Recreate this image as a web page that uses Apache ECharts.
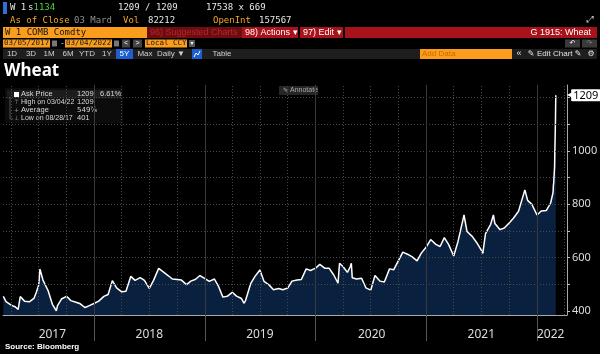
<!DOCTYPE html>
<html>
<head>
<meta charset="utf-8">
<script src="https://cdn.jsdelivr.net/npm/echarts@6/dist/echarts.min.js"></script>
<style>
  html, body { margin: 0; padding: 0; background: #000; }
  #chart { width: 600px; height: 354px; }
</style>
</head>
<body>
<div id="chart"></div>
<script>
// wheat front month (1st / 15th of month plus turning points)
const priceDates = [
  '2017-03-06','2017-03-15','2017-04-01','2017-04-15','2017-04-24','2017-05-01','2017-05-15','2017-06-01','2017-06-15','2017-06-23',
  '2017-07-01','2017-07-05','2017-07-15','2017-08-01','2017-08-15','2017-08-28','2017-09-01','2017-09-15','2017-10-01','2017-10-15',
  '2017-11-01','2017-11-15','2017-12-01','2017-12-15',
  '2018-01-01','2018-01-15','2018-02-01','2018-02-15','2018-03-01','2018-03-15','2018-04-01','2018-04-15','2018-05-01','2018-05-15',
  '2018-06-01','2018-06-15','2018-07-01','2018-07-15','2018-08-01','2018-08-03','2018-08-15','2018-09-01','2018-09-15','2018-10-01',
  '2018-10-15','2018-11-01','2018-11-15','2018-12-01','2018-12-15',
  '2019-01-01','2019-01-15','2019-02-01','2019-02-15','2019-03-01','2019-03-15','2019-04-01','2019-04-15','2019-05-01','2019-05-10',
  '2019-05-15','2019-06-01','2019-06-15','2019-07-01','2019-07-15','2019-08-01','2019-08-15','2019-09-01','2019-09-15','2019-10-01',
  '2019-10-15','2019-11-01','2019-11-15','2019-12-01','2019-12-15',
  '2020-01-01','2020-01-15','2020-02-01','2020-02-15','2020-03-01','2020-03-15','2020-03-20','2020-04-01','2020-04-15','2020-04-24',
  '2020-04-28','2020-05-01','2020-05-15','2020-06-01','2020-06-15','2020-07-01','2020-07-15','2020-08-01','2020-08-15','2020-09-01',
  '2020-09-15','2020-10-01','2020-10-15','2020-11-01','2020-11-15','2020-12-01','2020-12-15',
  '2021-01-01','2021-01-15','2021-02-01','2021-02-15','2021-03-01','2021-03-15','2021-04-01','2021-04-15','2021-05-01','2021-05-05',
  '2021-05-15','2021-06-01','2021-06-15','2021-07-01','2021-07-06','2021-07-15','2021-08-01','2021-08-10','2021-08-15','2021-09-01',
  '2021-09-15','2021-10-01','2021-10-15','2021-11-01','2021-11-15','2021-11-22','2021-12-01','2021-12-15',
  '2022-01-01','2022-01-15','2022-02-01','2022-02-15','2022-02-18','2022-02-23','2022-02-24','2022-02-25','2022-02-28','2022-03-01',
  '2022-03-02','2022-03-03','2022-03-04'
];
const priceValues = [
  455,435,422,415,406,454,437,435,447,470,
  498,557,516,476,425,401,420,446,455,439,
  433,427,413,420,
  429,437,455,462,514,487,472,474,530,515,
  525,515,485,515,560,566,548,533,520,518,
  516,499,512,519,533,
  521,511,520,491,452,455,470,456,447,429,
  440,504,530,554,511,497,480,484,480,486,
  512,516,518,558,552,
  561,575,560,560,535,504,579,566,545,565,
  579,525,520,523,487,478,533,512,509,558,
  555,590,621,612,603,588,617,
  641,668,650,642,675,650,606,660,740,760,
  698,680,658,628,616,690,725,760,728,705,
  711,730,748,774,828,854,815,800,
  760,775,777,805,800,845,870,880,940,1010,
  1060,1120,1209
];

const yLabelValues = [400, 600, 800, 1000];
const yTickValues = [400, 500, 600, 700, 800, 900, 1000, 1100, 1200];
const yGridValues = [500, 600, 700, 800, 900, 1000, 1100, 1200];
const yearLabelDates = ['2017-08-15', '2018-07-01', '2019-07-01', '2020-07-04', '2021-07-01', '2022-02-15'];
const yearLineDates = ['2018-01-01', '2019-01-01', '2020-01-01', '2021-01-01', '2022-01-01'];
const quarterLineDates = [
  '2017-04-01','2017-07-01','2017-10-01','2018-04-01','2018-07-01','2018-10-01','2019-04-01','2019-07-01','2019-10-01',
  '2020-04-01','2020-07-01','2020-10-01','2021-04-01','2021-07-01','2021-10-01','2022-04-01'
];
const lastPrice = 1209;

const ts = s => echarts.time.parse(s).getTime();
const MONO = '"DejaVu Sans Mono", monospace';
const SANS = '"Liberation Sans", Arial, sans-serif';

const R = (x, y, w, h, fill) => ({ type: 'rect', shape: { x, y, width: w, height: h }, style: { fill }, silent: true });
const T = (x, y, text, fill, font, align) => ({
  type: 'text', x, y, silent: true,
  style: { text, fill, font, align: align || 'left', verticalAlign: 'middle' }
});

const header = [
  // row 1
  R(3, 2, 4, 12, '#2f6fd6'),
  T(10, 8, 'W 1', '#e6e6e6', '9px ' + MONO),
  T(28, 8, 's', '#e6e6e6', '9px ' + MONO),
  T(33.5, 8, '1134', '#4cd137', '9px ' + MONO),
  T(118, 8, '1209 / 1209', '#e6e6e6', '9px ' + MONO),
  T(206, 8, '17538 x 669', '#e6e6e6', '9px ' + MONO),
  // row 2
  T(10, 20.5, 'As of Close', '#f5a623', '9px ' + MONO),
  T(74, 20.5, '03 Mard', '#8c8c8c', '9px ' + MONO),
  T(123, 20.5, 'Vol', '#f5a623', '9px ' + MONO),
  T(148, 20.5, '82212', '#e6e6e6', '9px ' + MONO),
  T(213, 20.5, 'OpenInt', '#f5a623', '9px ' + MONO),
  T(259, 20.5, '157567', '#e6e6e6', '9px ' + MONO),
  T(590, 20, '⤢', '#cccccc', '9px "DejaVu Sans"', 'center'),
  // row 3
  R(3, 27, 144, 11, '#fb9d1c'),
  T(5, 32.5, 'W 1 COMB Comdty', '#141414', '9px ' + MONO),
  R(147, 27, 95, 11, '#6e0d10'),
  T(150, 32.5, '96) Suggested Charts', '#b3262b', '9px ' + SANS),
  R(242, 27, 56, 11, '#a8121a'),
  T(245, 32.5, '98) Actions ▾', '#ffffff', '9px ' + SANS),
  R(300, 27, 43, 11, '#a8121a'),
  T(303, 32.5, '97) Edit ▾', '#ffffff', '9px ' + SANS),
  R(345, 27, 252, 11, '#a8121a'),
  T(591, 32.5, 'G 1915: Wheat', '#ffffff', '9px ' + SANS, 'right'),
  // row 4
  R(3, 39.5, 47, 8, '#fb9d1c'),
  T(4, 43.5, '03/05/2017', '#1a1a1a', '7.5px ' + MONO),
  R(52, 40.5, 5, 6, '#777'),
  T(60, 43.5, '-', '#cccccc', '8px ' + MONO),
  R(65, 39.5, 47, 8, '#fb9d1c'),
  T(66, 43.5, '03/04/2022', '#1a1a1a', '7.5px ' + MONO),
  R(114, 40.5, 5, 6, '#777'),
  R(122, 39.5, 8, 8, '#444'),
  T(126, 43.5, '<', '#ffffff', '7px ' + SANS, 'center'),
  R(133, 39.5, 9, 8, '#444'),
  T(137.5, 43.5, '>', '#ffffff', '7px ' + SANS, 'center'),
  R(145, 39.5, 42, 8, '#fb9d1c'),
  T(146, 43.5, 'Local CCY', '#1a1a1a', '7.5px ' + MONO),
  R(189, 40, 6, 7, '#555'),
  T(192, 43.5, '▾', '#ffffff', '6px "DejaVu Sans"', 'center'),
  R(565, 39.5, 15, 8, '#3a3a3a'),
  T(572.5, 43.5, '↶', '#ffffff', '7px "DejaVu Sans"', 'center'),
  R(582, 39.5, 15, 8, '#3a3a3a'),
  T(589.5, 43.5, '↷', '#888888', '7px "DejaVu Sans"', 'center'),
  // row 5
  R(3, 49, 594, 10, '#1e1e1e'),
  T(12, 54, '1D', '#d0d0d0', '8px ' + SANS, 'center'),
  T(31, 54, '3D', '#d0d0d0', '8px ' + SANS, 'center'),
  T(49, 54, '1M', '#d0d0d0', '8px ' + SANS, 'center'),
  T(68, 54, '6M', '#d0d0d0', '8px ' + SANS, 'center'),
  T(87, 54, 'YTD', '#d0d0d0', '8px ' + SANS, 'center'),
  T(107, 54, '1Y', '#d0d0d0', '8px ' + SANS, 'center'),
  R(116, 49, 17, 10, '#1d5fd0'),
  T(124.5, 54, '5Y', '#ffffff', '8px ' + SANS, 'center'),
  T(145, 54, 'Max', '#d0d0d0', '8px ' + SANS, 'center'),
  T(171, 54, 'Daily ▼', '#d0d0d0', '8px ' + SANS, 'center'),
  R(192, 49, 10, 10, '#1d5fd0'),
  { type: 'polyline', silent: true, shape: { points: [[194, 57], [196, 53], [198, 55], [200, 51]] }, style: { stroke: '#ffffff', lineWidth: 1, fill: null } },
  T(222, 54, 'Table', '#d0d0d0', '8px ' + SANS, 'center'),
  R(420, 49, 92, 10, '#fb9d1c'),
  T(422, 54, 'Add Data', '#c86a00', '8px ' + SANS),
  T(519, 54, '«', '#e0e0e0', '9px ' + SANS, 'center'),
  T(531, 54, '✎', '#e0e0e0', '8px "DejaVu Sans"', 'center'),
  T(537, 54, 'Edit Chart', '#e0e0e0', '8px ' + SANS),
  T(578, 54, '✎', '#e0e0e0', '8px "DejaVu Sans"', 'center'),
  T(591, 54, '⚙', '#e0e0e0', '8px "DejaVu Sans"', 'center'),
  // title
  T(4, 71.5, 'Wheat', '#ffffff', 'bold 17px "Noto Sans", sans-serif'),
  // legend panel
  R(5, 88, 118, 35, '#0c0c0c'),
  R(7, 90, 114, 8.5, '#1c1c1c'),
  { type: 'polyline', silent: true, shape: { points: [[10, 97], [10, 119], [13, 119]] }, style: { stroke: '#666', lineWidth: 0.8, fill: null } },
  R(14, 92, 5, 5, '#ffffff'),
  T(21, 94.3, 'Ask Price', '#d8d8d8', '7.5px ' + SANS),
  T(77, 94.3, '1209', '#d8d8d8', '7.5px ' + SANS),
  T(100, 94.3, '6.61%', '#d8d8d8', '7.5px ' + SANS),
  T(16.5, 102.3, '⊤', '#999', '6px "DejaVu Sans"', 'center'),
  T(21, 102.3, 'High on 03/04/22', '#d8d8d8', '7px ' + SANS),
  T(77, 102.3, '1209', '#d8d8d8', '7.5px ' + SANS),
  T(16.5, 110.3, '+', '#999', '6px "DejaVu Sans"', 'center'),
  T(21, 110.3, 'Average', '#d8d8d8', '7.5px ' + SANS),
  T(77, 110.3, '549⅞', '#d8d8d8', '7px "DejaVu Sans"'),
  T(16.5, 118.3, '⊥', '#999', '6px "DejaVu Sans"', 'center'),
  T(21, 118.3, 'Low on 08/28/17', '#d8d8d8', '7px ' + SANS),
  T(77, 118.3, '401', '#d8d8d8', '7.5px ' + SANS),
  // annotate button
  R(279, 86, 39, 9, '#262626'),
  T(283, 90.5, '✎', '#aaaaaa', '6px "DejaVu Sans"'),
  T(290, 90.5, 'Annotate', '#aaaaaa', '7px ' + SANS),
  // source
  T(5, 347, 'Source: Bloomberg', '#ffffff', 'bold 8px ' + SANS)
];

const dotted = { color: '#4a4a4a', type: [1, 2], width: 1 };
const gridLines = [].concat(
  yGridValues.map(v => ({ yAxis: v, lineStyle: dotted })),
  quarterLineDates.map(d => ({ xAxis: ts(d), lineStyle: dotted })),
  yearLineDates.map(d => ({ xAxis: ts(d), lineStyle: { color: '#3a3a3a', type: 'solid', width: 1 } }))
);

const yMin = 385, yMax = 1247.5;

const option = {
  backgroundColor: '#000',
  animation: false,
  graphic: header,
  grid: { left: 3, right: 33, top: 85, bottom: 39, outerBoundsMode: 'none' },
  xAxis: {
    type: 'value',
    min: ts('2017-03-05'),
    max: ts('2022-04-10'),
    axisLine: { show: true, lineStyle: { color: '#a8a8a8', width: 1 } },
    axisTick: {
      show: true,
      customValues: yearLineDates.map(ts),
      length: 26,
      lineStyle: { color: '#555', width: 1 }
    },
    axisLabel: {
      customValues: yearLabelDates.map(ts),
      formatter: v => String(new Date(v).getFullYear()),
      color: '#dddddd',
      fontSize: 12,
      fontFamily: '"Noto Sans", sans-serif',
      margin: 14
    },
    splitLine: { show: false }
  },
  yAxis: [
    {
      type: 'value',
      position: 'right',
      min: yMin,
      max: yMax,
      axisLine: { show: true, lineStyle: { color: '#a8a8a8', width: 1 } },
      axisTick: { show: true, customValues: yTickValues, length: 3, lineStyle: { color: '#bbb' } },
      axisLabel: {
        customValues: yLabelValues,
        formatter: v => String(v),
        color: '#dddddd',
        fontSize: 11,
        fontFamily: '"Noto Sans", sans-serif',
        margin: 5
      },
      splitLine: { show: false }
    },
    {
      type: 'value',
      position: 'right',
      min: yMin,
      max: yMax,
      axisLine: { show: false },
      axisTick: { show: false },
      axisLabel: {
        customValues: [lastPrice],
        formatter: v => '{p|◀}{b|' + v + '}',
        margin: 0,
        rich: {
          p: { color: '#ffffff', fontSize: 8, fontFamily: '"DejaVu Sans"', padding: [0, -2, 0, 0] },
          b: {
            color: '#000', backgroundColor: '#ffffff', borderRadius: 1,
            padding: [1, 2, 0, 2], fontSize: 11, fontFamily: '"Noto Sans", sans-serif'
          }
        }
      },
      splitLine: { show: false }
    }
  ],
  series: [
    {
      type: 'line',
      data: [],
      silent: true,
      markLine: { silent: true, symbol: 'none', label: { show: false }, data: gridLines, animation: false }
    },
    {
      name: 'Wheat',
      type: 'line',
      data: priceDates.map((d, i) => [ts(d), priceValues[i]]),
      showSymbol: false,
      symbol: 'none',
      lineStyle: { color: '#ffffff', width: 1.5 },
      areaStyle: { color: '#0a2444', opacity: 0.92 }
    }
  ]
};

const chart = echarts.init(document.getElementById('chart'));
chart.setOption(option);
</script>
</body>
</html>
